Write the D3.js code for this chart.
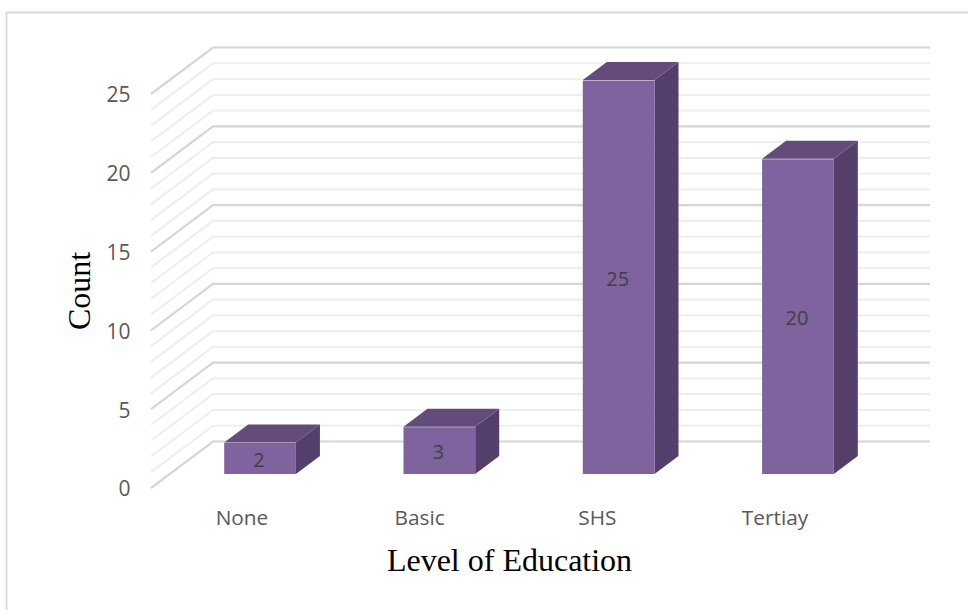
<!DOCTYPE html>
<html><head><meta charset="utf-8">
<script src="https://cdnjs.cloudflare.com/ajax/libs/d3/7.8.5/d3.min.js"></script>
<style>html,body{margin:0;padding:0;background:#fff}svg{display:block}</style>
</head><body><svg id="c" width="970" height="610"></svg>
<script>
const categories = ["None","Basic","SHS","Tertiay"];
const counts = [2,3,25,20];
const yTicks = [0,5,10,15,20,25];
const xTitle = "Level of Education";
const yTitle = "Count";

const svg = d3.select("#c");
const sans = "'Open Sans',sans-serif", serif = "'Liberation Serif',serif";

// frame
svg.append("path").attr("d","M6.5,610V12.5H968").attr("fill","none").attr("stroke","#d9d9d9").attr("stroke-width",1.8);

// value scale at the front edge of the floor
const y = d3.scaleLinear().domain([0,25]).range([488,94]);
const x = d3.scaleBand().domain(categories).range([170.4,887.6]).paddingInner(0.6).paddingOuter(0.3);
const xLabel = d3.scalePoint().domain(categories).range([242,775]);
const wall = {dx:62, dy:-46.5}, left = 151, right = 930;
const barOff = -14, depth = {dx:24, dy:-18};

const grid = svg.append("g").attr("fill","none");
grid.selectAll("path").data(d3.range(0,26))
  .join("path")
  .sort((a,b)=>(a%5===0)-(b%5===0))
  .attr("d",v=>`M${left},${y(v)}L${left+wall.dx},${y(v)+wall.dy}H${right}`)
  .attr("stroke",v=>v%5===0?"#d6d6d6":"#efefef")
  .attr("stroke-width",2.2);

// bars
const bars = svg.append("g").selectAll("g").data(categories.map((c,i)=>({c,v:counts[i]}))).join("g");
const pts = a=>a.map(p=>p.join(",")).join(" ");
bars.append("polygon").attr("fill","#533f69").attr("points",d=>{
  const r=x(d.c)+x.bandwidth(), t=y(d.v)+barOff, b=y(0)+barOff;
  return pts([[r,t],[r+depth.dx,t+depth.dy],[r+depth.dx,b+depth.dy],[r,b]]);
});
bars.append("polygon").attr("fill","#634c7b").attr("points",d=>{
  const l=x(d.c), r=l+x.bandwidth(), t=y(d.v)+barOff;
  return pts([[l,t],[r,t],[r+depth.dx,t+depth.dy],[l+depth.dx,t+depth.dy]]);
});
bars.append("rect").attr("fill","#7f639f").attr("x",d=>x(d.c)).attr("width",x.bandwidth())
  .attr("y",d=>y(d.v)+barOff+0.5).attr("height",d=>y(0)-y(d.v)-0.5);
bars.append("text").text(d=>d.v).attr("x",d=>x(d.c)+x.bandwidth()/2-1)
  .attr("y",d=>(y(d.v)+y(0))/2+barOff+1.5).attr("dy","0.35em").attr("text-anchor","middle")
  .attr("font-family",sans).attr("font-size",20).attr("fill","#404040");

// y tick labels
svg.append("g").selectAll("text").data(yTicks).join("text").text(d=>d)
  .attr("x",130.5).attr("y",d=>y(d)+1).attr("dy","0.35em").attr("text-anchor","end")
  .attr("font-family",sans).attr("font-size",21).attr("fill","#595959");

// category labels
svg.append("g").selectAll("text").data(categories).join("text").text(d=>d)
  .attr("x",d=>xLabel(d)).attr("y",518).attr("dy","0.35em").attr("text-anchor","middle")
  .attr("font-family",sans).attr("font-size",20.8).attr("fill","#595959");

// axis titles
svg.append("text").text(xTitle).attr("x",509.5).attr("y",571).attr("text-anchor","middle")
  .attr("font-family",serif).attr("font-size",32).attr("fill","#000");
svg.append("text").text(yTitle).attr("transform","translate(90,291) rotate(-90)").attr("text-anchor","middle")
  .attr("font-family",serif).attr("font-size",32).attr("fill","#000");
</script></body></html>
